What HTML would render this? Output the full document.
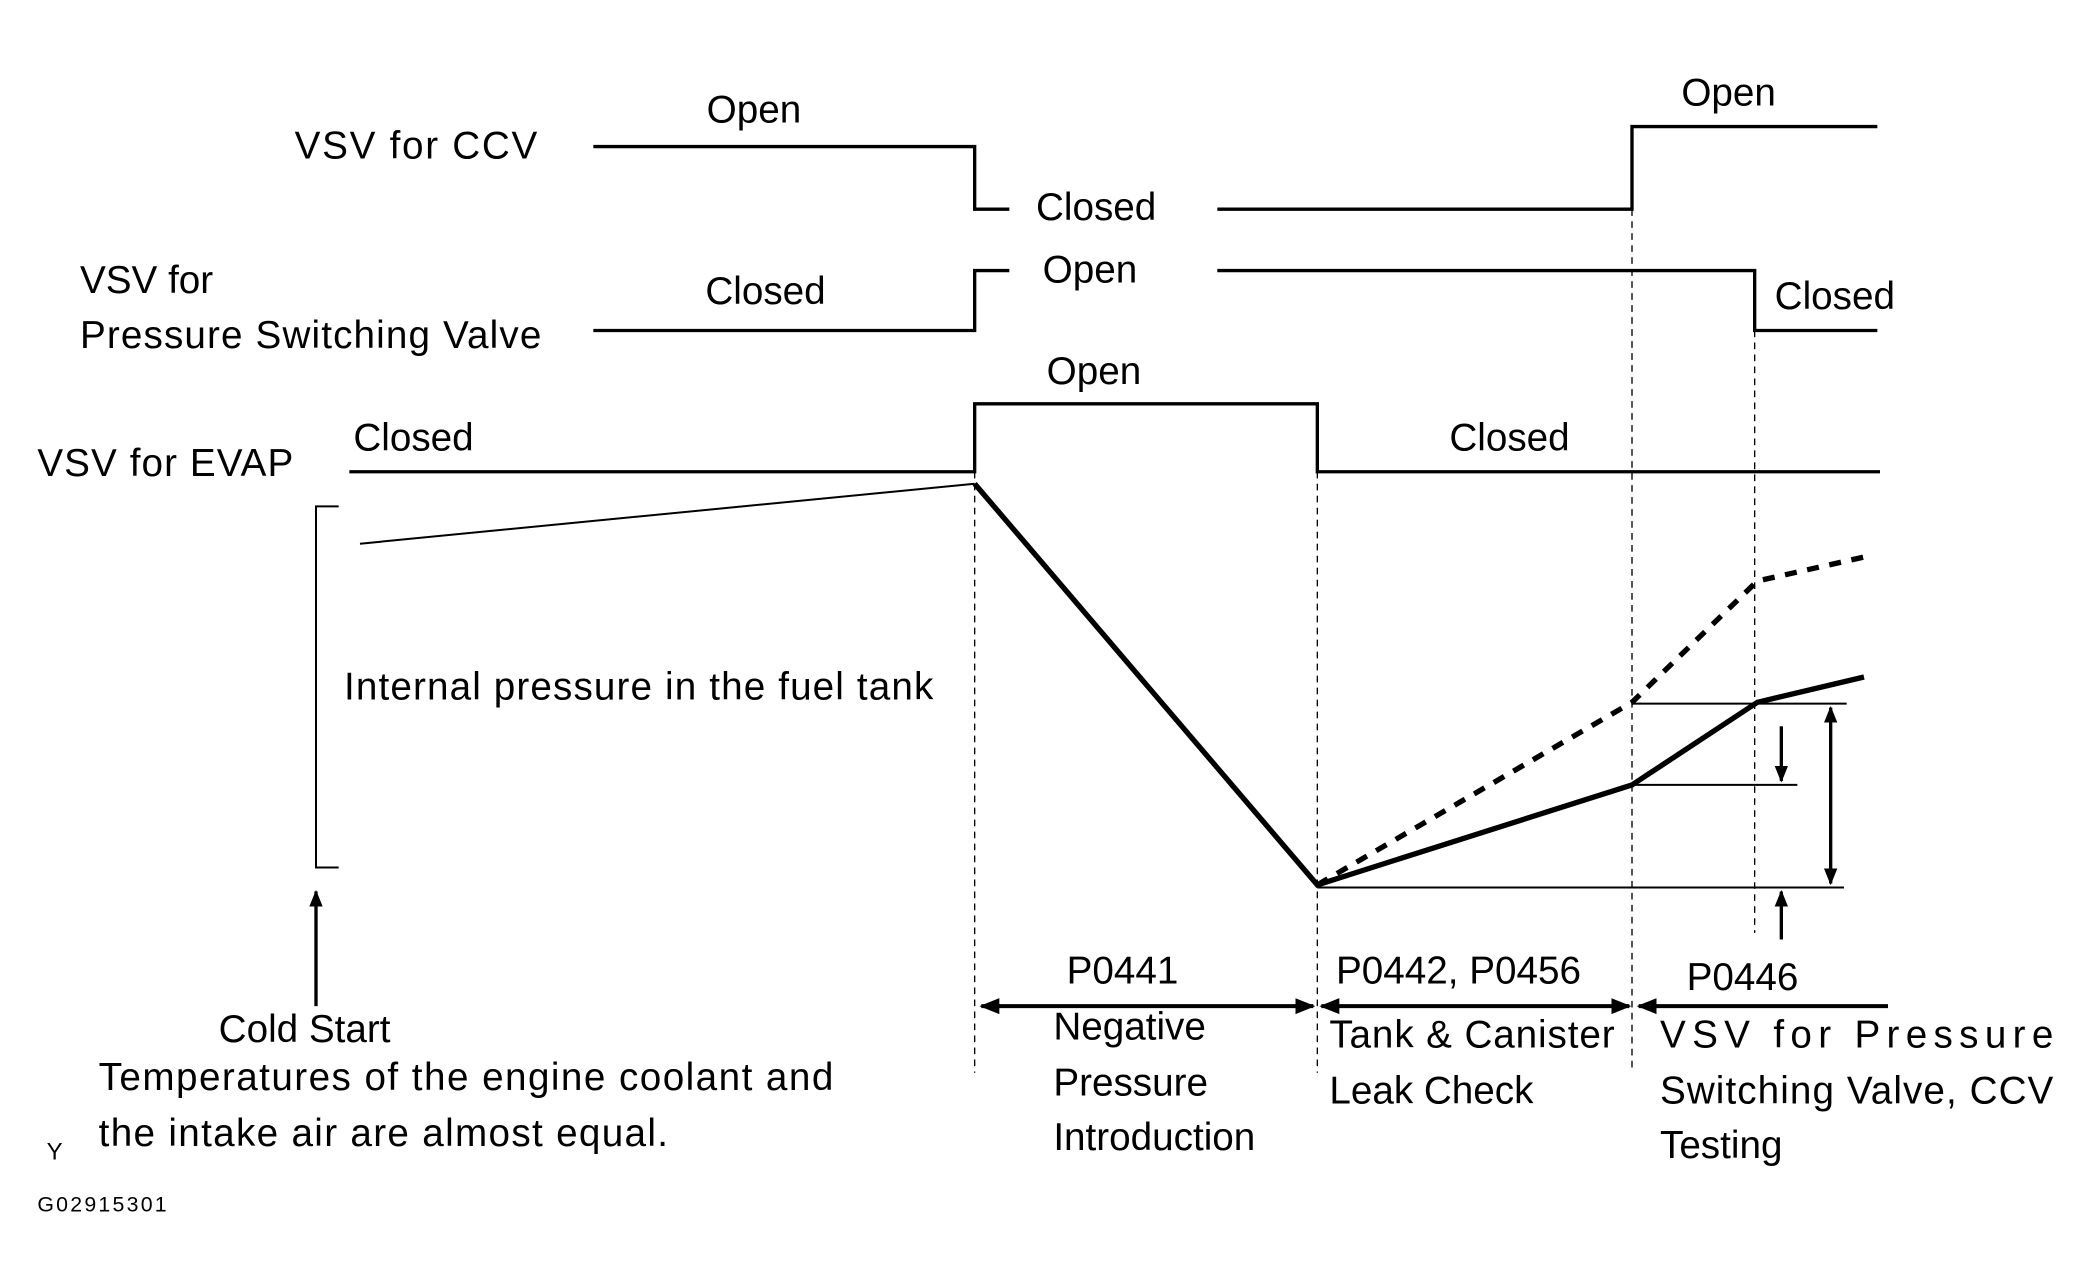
<!DOCTYPE html>
<html><head><meta charset="utf-8"><style>
html,body{margin:0;padding:0;background:#fff;}
svg{display:block;}
text{font-family:"Liberation Sans",sans-serif;font-size:29px;fill:#000;}
</style></head><body>
<svg width="2088" height="1286" viewBox="0 0 1566 965" preserveAspectRatio="none" xmlns="http://www.w3.org/2000/svg">
<defs>
<marker id="ah" viewBox="0 0 10 10" refX="9" refY="5" markerWidth="5" markerHeight="5" orient="auto-start-reverse"><path d="M0,1 L10,5 L0,9 z" fill="#000"/></marker>
</defs>
<g stroke="#000" fill="none" stroke-width="2.5">
<polyline points="445,110 731,110 731,157 757,157"/>
<polyline points="913,157 1224,157 1224,95 1408,95"/>
<polyline points="445,248 731,248 731,203 757,203"/>
<polyline points="913,203 1316,203 1316,248 1408,248"/>
<polyline points="262,354 731,354 731,303 988,303 988,354 1410,354"/>
<polyline points="254,380 237,380 237,651 254,651" stroke-width="1.5"/>
<line x1="270" y1="408" x2="731" y2="363" stroke-width="1.5"/>
<polyline points="731,363 988,664 1224,589 1318,527 1398,508" stroke-width="4"/>
<polyline points="988,664 1224,527 1318,436 1398,418" stroke-width="4" stroke-dasharray="9,8"/>
<line x1="1224" y1="528" x2="1385" y2="528" stroke-width="1.5"/>
<line x1="1224" y1="589" x2="1348" y2="589" stroke-width="1.5"/>
<line x1="988" y1="666" x2="1383" y2="666" stroke-width="1.5"/>
<g stroke-width="1" stroke-dasharray="5,4">
<line x1="731" y1="354" x2="731" y2="805"/>
<line x1="988" y1="354" x2="988" y2="805"/>
<line x1="1224" y1="157" x2="1224" y2="805"/>
<line x1="1316" y1="248" x2="1316" y2="700"/>
</g>
<line x1="1336" y1="545" x2="1336" y2="586" marker-end="url(#ah)"/>
<line x1="1373" y1="531" x2="1373" y2="663" marker-start="url(#ah)" marker-end="url(#ah)"/>
<line x1="1336" y1="705" x2="1336" y2="669" marker-end="url(#ah)"/>
<line x1="237" y1="755" x2="237" y2="669" marker-end="url(#ah)"/>
<line x1="736" y1="755" x2="985" y2="755" stroke-width="3" marker-start="url(#ah)" marker-end="url(#ah)"/>
<line x1="991" y1="755" x2="1222" y2="755" stroke-width="3" marker-start="url(#ah)" marker-end="url(#ah)"/>
<line x1="1229" y1="755" x2="1416" y2="755" stroke-width="3" marker-start="url(#ah)"/>
</g>
<text x="221" y="119" textLength="182">VSV for CCV</text>
<text x="530" y="92">Open</text>
<text x="777" y="165">Closed</text>
<text x="1261" y="79">Open</text>
<text x="60" y="220">VSV for</text>
<text x="60" y="261" textLength="346">Pressure Switching Valve</text>
<text x="529" y="228">Closed</text>
<text x="782" y="212">Open</text>
<text x="1331" y="232">Closed</text>
<text x="785" y="288">Open</text>
<text x="28" y="357" textLength="192">VSV for EVAP</text>
<text x="265" y="338">Closed</text>
<text x="1087" y="338">Closed</text>
<text x="258" y="525" textLength="442">Internal pressure in the fuel tank</text>
<text x="800" y="738">P0441</text>
<text x="790" y="780">Negative</text>
<text x="790" y="822">Pressure</text>
<text x="790" y="863">Introduction</text>
<text x="1002" y="738">P0442, P0456</text>
<text x="997" y="786" textLength="214">Tank &amp; Canister</text>
<text x="997" y="828">Leak Check</text>
<text x="1265" y="743">P0446</text>
<text x="1245" y="786" textLength="295" lengthAdjust="spacing">VSV for Pressure</text>
<text x="1245" y="828" textLength="295">Switching Valve, CCV</text>
<text x="1245" y="869">Testing</text>
<text x="164" y="782">Cold Start</text>
<text x="74" y="818" textLength="551">Temperatures of the engine coolant and</text>
<text x="74" y="860" textLength="427">the intake air are almost equal.</text>
<text x="35" y="870" style="font-size:18px">Y</text>
<text x="28" y="909" style="font-size:16px" textLength="97">G02915301</text>
</svg>
</body></html>
